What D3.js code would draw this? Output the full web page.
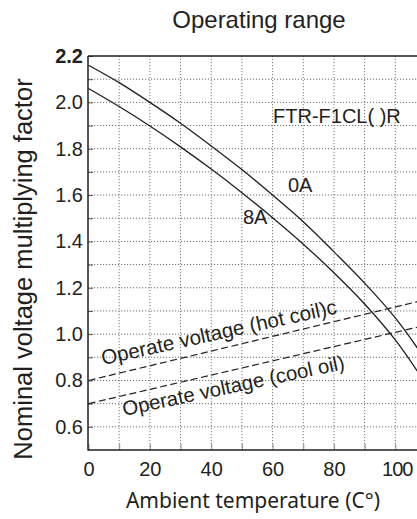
<!DOCTYPE html>
<html><head><meta charset="utf-8">
<script src="https://cdn.jsdelivr.net/npm/d3@7"></script>
<style>
body{margin:0;background:#fff}
text{fill:#231f20}
</style></head>
<body><svg id="c" width="417" height="519"></svg>
<script>
// ---- data ----
const temps0A   = [0, 10, 20, 30, 40, 50, 60, 70, 80, 90, 100, 107.2];
const factor0A  = [2.16, 2.085, 2.00, 1.91, 1.812, 1.71, 1.60, 1.485, 1.355, 1.22, 1.07, 0.94];
const temps8A   = [0, 10, 20, 30, 40, 50, 60, 70, 80, 90, 100, 107.2];
const factor8A  = [2.06, 1.982, 1.898, 1.808, 1.712, 1.61, 1.502, 1.388, 1.265, 1.13, 0.975, 0.84];
const hotTemps   = [0, 107.2];
const hotFactor  = [0.80, 1.14];
const coolTemps  = [0, 107.2];
const coolFactor = [0.70, 1.03];
const xTickValues = [0, 10, 20, 30, 40, 50, 60, 70, 80, 90, 100];
const xTickLabels = ["0", "", "20", "", "40", "", "60", "", "80", "", "100"];
const yTickValues = [0.6, 0.7, 0.8, 0.9, 1.0, 1.1, 1.2, 1.3, 1.4, 1.5, 1.6, 1.7, 1.8, 1.9, 2.0, 2.1, 2.2];
const yTickLabels = ["0.6", "", "0.8", "", "1.0", "", "1.2", "", "1.4", "", "1.6", "", "1.8", "", "2.0", "", "2.2"];

// ---- layout ----
const svg = d3.select("#c");
const L = 88, T = 56, B = 450, R = 417;
const x = d3.scaleLinear().domain([0, 100]).range([88.5, 395.3]);
const y = d3.scaleLinear().domain([0.5, 2.2]).range([B, T]);
const ink = "#231f20";
const font = "'Liberation Sans', Arial, sans-serif";

// grid
const grid = svg.append("g");
grid.selectAll("line.h").data(yTickValues.filter(v => v < 2.15)).join("line")
  .attr("x1", L).attr("x2", R).attr("y1", d => y(d)).attr("y2", d => y(d))
  .attr("stroke", "#707070").attr("stroke-width", 1).attr("stroke-dasharray", "1.2,1.8");
grid.selectAll("line.v").data(xTickValues.filter(v => v > 0)).join("line")
  .attr("x1", d => x(d)).attr("x2", d => x(d)).attr("y1", T).attr("y2", B)
  .attr("stroke", "#7a7a7a").attr("stroke-width", 1).attr("stroke-dasharray", "1.2,1.8");

// axes
const xAxis = d3.axisBottom(x).tickValues(xTickValues).tickSize(-6).tickPadding(12)
  .tickFormat((d, i) => xTickLabels[i]);
const gx = svg.append("g").attr("transform", `translate(0,${B})`).call(xAxis);
gx.select(".domain").remove();
gx.selectAll(".tick line").attr("stroke", "#8a8a8a");
gx.selectAll(".tick text").attr("font-family", font).attr("font-size", 20).attr("fill", ink)
  .filter(d => d === 100).attr("dx", 1.5).attr("letter-spacing", -1);

const yAxis = d3.axisLeft(y).tickValues(yTickValues).tickSize(-5).tickPadding(5)
  .tickFormat((d, i) => yTickLabels[i]);
const gy = svg.append("g").attr("transform", `translate(${L},0)`).call(yAxis);
gy.select(".domain").remove();
gy.selectAll(".tick line").attr("stroke", "#555");
gy.selectAll(".tick text").attr("font-family", font).attr("font-size", 20).attr("fill", ink)
  .attr("font-weight", d => Math.abs(d - 2.2) < 1e-9 ? "bold" : "normal");

// frame
svg.append("line").attr("x1", L).attr("x2", L).attr("y1", T).attr("y2", B + 0.5).attr("stroke", ink).attr("stroke-width", 1.5);
svg.append("line").attr("x1", L).attr("x2", R).attr("y1", B).attr("y2", B).attr("stroke", ink).attr("stroke-width", 1.5);
svg.append("line").attr("x1", L).attr("x2", R).attr("y1", T).attr("y2", T).attr("stroke", ink).attr("stroke-width", 1.5);

// curves
const line = d3.line().x(d => x(d[0])).y(d => y(d[1])).curve(d3.curveCatmullRom.alpha(0.5));
const zip = (a, b) => a.map((v, i) => [v, b[i]]);
svg.append("path").attr("d", line(zip(temps0A, factor0A))).attr("fill", "none").attr("stroke", ink).attr("stroke-width", 1.3);
svg.append("path").attr("d", line(zip(temps8A, factor8A))).attr("fill", "none").attr("stroke", ink).attr("stroke-width", 1.3);
const straight = d3.line().x(d => x(d[0])).y(d => y(d[1]));
svg.append("path").attr("d", straight(zip(hotTemps, hotFactor))).attr("fill", "none").attr("stroke", ink).attr("stroke-width", 1.2).attr("stroke-dasharray", "7,3.5");
svg.append("path").attr("d", straight(zip(coolTemps, coolFactor))).attr("fill", "none").attr("stroke", ink).attr("stroke-width", 1.2).attr("stroke-dasharray", "7,3.5");

// texts
svg.append("text").attr("x", 259).attr("y", 27.5).attr("text-anchor", "middle")
  .attr("font-family", font).attr("font-size", 24).text("Operating range");
svg.append("text").attr("transform", "translate(32,269) rotate(-90)").attr("text-anchor", "middle")
  .attr("font-family", font).attr("font-size", 25.5).text("Nominal voltage multiplying factor");
svg.append("text").attr("x", 253).attr("y", 508).attr("text-anchor", "middle")
  .attr("font-family", "'Noto Sans', sans-serif").attr("font-size", 21).text("Ambient temperature (C°)");
svg.append("text").attr("x", 273).attr("y", 123).attr("font-family", font).attr("font-size", 20).text("FTR-F1CL( )R");
svg.append("text").attr("x", 288).attr("y", 191.5).attr("font-family", font).attr("font-size", 20).text("0A");
svg.append("text").attr("x", 243).attr("y", 224).attr("font-family", font).attr("font-size", 20).text("8A");
svg.append("text").attr("transform", "translate(103,365) rotate(-12.4)")
  .attr("font-family", font).attr("font-size", 20.5).text("Operate voltage (hot coil)c");
svg.append("text").attr("transform", "translate(124,416) rotate(-12)")
  .attr("font-family", font).attr("font-size", 20.3).text("Operate voltage (cool oil)");
</script>
</body></html>
